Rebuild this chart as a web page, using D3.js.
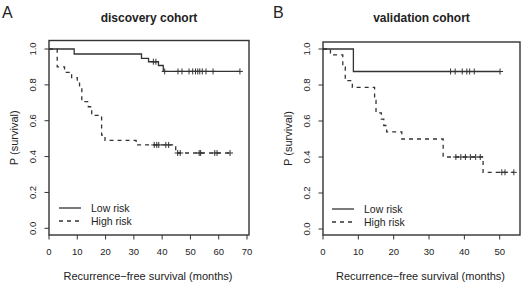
<!DOCTYPE html>
<html>
<head>
<meta charset="utf-8">
<script src="https://cdn.jsdelivr.net/npm/d3@7"></script>
<style>
  body { margin: 0; background: #fff; }
  text { font-family: "Liberation Sans", Arial, Helvetica, sans-serif; fill: #222; }
</style>
</head>
<body>
<div id="chart"></div>
<script>
(function() {

  // -----------------------------
  // 1. DATA
  // -----------------------------
  // discovery cohort
  const lowA_times  = [0, 8.9, 32.7, 35.2, 38.7, 40.4];
  const lowA_surv   = [1, 0.972, 0.948, 0.929, 0.908, 0.875];
  const lowA_censor = [36.9, 37.8, 40.9, 45.6, 47.0, 49.5, 50.8, 51.8, 52.6, 53.3, 54.2, 55.5, 58.0, 67.5];

  const highA_times  = [0, 2.9, 5.5, 8.0, 10.0, 10.8, 11.6, 13.9, 15.1, 18.6, 19.8, 30.8, 44.8];
  const highA_surv   = [1, 0.90, 0.87, 0.84, 0.81, 0.787, 0.706, 0.678, 0.63, 0.52, 0.49, 0.465, 0.42];
  const highA_censor = [37.2, 38.1, 38.8, 41.3, 42.3, 45.5, 46.4, 53.1, 53.6, 58.6, 59.4, 64.0];

  // validation cohort
  const lowB_times  = [0, 8.6];
  const lowB_surv   = [1, 0.875];
  const lowB_censor = [36.1, 37.4, 39.4, 40.7, 41.5, 42.8, 50.1];

  const highB_times  = [0, 2.1, 5.6, 6.3, 8.3, 14.6, 15.0, 16.5, 17.2, 18.0, 22.3, 34.0, 45.3];
  const highB_surv   = [1, 0.967, 0.90, 0.824, 0.787, 0.715, 0.645, 0.61, 0.575, 0.54, 0.50, 0.40, 0.315];
  const highB_censor = [37.6, 39.0, 40.3, 41.7, 43.2, 44.5, 50.6, 51.5, 54.0];

  const yTicks = [0, 0.2, 0.4, 0.6, 0.8, 1.0];
  const xTicksA = [0, 10, 20, 30, 40, 50, 60, 70];
  const xTicksB = [0, 10, 20, 30, 40, 50];
  const seriesNames = ["Low risk", "High risk"];

  // -----------------------------
  // 2. SVG SETUP
  // -----------------------------
  const width = 524, height = 285;
  const svg = d3.select("#chart").append("svg")
      .attr("width", width)
      .attr("height", height);

  const ink = "#333";

  function drawPanel(p) {
    const x = d3.scaleLinear().domain([0, p.xMax]).range([p.x0, p.x1]);
    const y = d3.scaleLinear().domain([0, 1]).range([p.y0, p.y1]);
    const g = svg.append("g");

    // panel letter + title
    g.append("text").attr("x", p.letterX).attr("y", 18)
      .style("font-size", "16px").text(p.letter);
    g.append("text").attr("x", (p.boxL + p.boxR) / 2).attr("y", 22)
      .attr("text-anchor", "middle")
      .style("font-size", "12px").style("font-weight", "bold")
      .text(p.title);

    // box
    g.append("rect")
      .attr("x", p.boxL).attr("y", p.boxT)
      .attr("width", p.boxR - p.boxL).attr("height", p.boxB - p.boxT)
      .attr("fill", "none").attr("stroke", ink).attr("stroke-width", 1.4);

    // y axis
    const yAxis = g.append("g");
    yAxis.selectAll("line").data(yTicks).enter().append("line")
      .attr("x1", p.boxL).attr("x2", p.boxL - 4.5)
      .attr("y1", d => y(d)).attr("y2", d => y(d))
      .attr("stroke", ink).attr("stroke-width", 1);
    yAxis.selectAll("text").data(yTicks).enter().append("text")
      .attr("transform", d => `translate(${p.boxL - 16},${y(d)}) rotate(-90)`)
      .attr("text-anchor", "middle").attr("dy", "0.35em")
      .style("font-size", "9.5px")
      .text(d => d3.format(".1f")(d));
    g.append("text")
      .attr("transform", `translate(${p.boxL - 35},${(p.boxT + p.boxB) / 2}) rotate(-90)`)
      .attr("text-anchor", "middle").attr("dy", "0.35em")
      .style("font-size", "11px")
      .text("P (survival)");

    // x axis
    const xAxis = g.append("g");
    xAxis.selectAll("line").data(p.xTicks).enter().append("line")
      .attr("x1", d => x(d)).attr("x2", d => x(d))
      .attr("y1", p.boxB).attr("y2", p.boxB + 4.5)
      .attr("stroke", ink).attr("stroke-width", 1);
    xAxis.selectAll("text").data(p.xTicks).enter().append("text")
      .attr("x", d => x(d)).attr("y", p.boxB + 19.5)
      .attr("text-anchor", "middle")
      .style("font-size", "9.5px")
      .text(d => d);
    g.append("text")
      .attr("x", (p.boxL + p.boxR) / 2 - 1).attr("y", 280)
      .attr("text-anchor", "middle")
      .style("font-size", "11px")
      .text("Recurrence\u2212free survival (months)");

    // curves
    const line = d3.line()
      .x(d => x(d[0])).y(d => y(d[1]))
      .curve(d3.curveStepAfter);

    p.series.forEach(s => {
      const pts = s.times.map((t, i) => [t, s.surv[i]]);
      const end = d3.max(s.censor.concat(s.times));
      pts.push([end, s.surv[s.surv.length - 1]]);
      g.append("path")
        .attr("d", line(pts))
        .attr("fill", "none").attr("stroke", ink)
        .attr("stroke-width", 1.3)
        .attr("stroke-dasharray", s.dash);

      const survAt = t => {
        let v = 1;
        s.times.forEach((tt, i) => { if (tt <= t) v = s.surv[i]; });
        return v;
      };
      const cg = g.append("g");
      s.censor.forEach(t => {
        const cx = x(t), cy = y(survAt(t));
        cg.append("path")
          .attr("d", `M${cx - 3},${cy}H${cx + 3}M${cx},${cy - 3}V${cy + 3}`)
          .attr("stroke", ink).attr("stroke-width", 1);
      });
    });

    // legend
    const leg = g.append("g");
    p.series.forEach((s, i) => {
      const ly = p.legY + i * 13;
      leg.append("line")
        .attr("x1", p.legX).attr("x2", p.legX + 22)
        .attr("y1", ly).attr("y2", ly)
        .attr("stroke", ink).attr("stroke-width", 1.3)
        .attr("stroke-dasharray", s.dash);
      leg.append("text")
        .attr("x", p.legX + 32).attr("y", ly).attr("dy", "0.35em")
        .style("font-size", "10.5px")
        .text(seriesNames[i]);
    });
  }

  // -----------------------------
  // 3. PANELS
  // -----------------------------
  drawPanel({
    letter: "A", letterX: 2, title: "discovery cohort",
    xMax: 70, x0: 49, x1: 247, y0: 228.3, y1: 49,
    boxL: 49, boxR: 249, boxT: 40.5, boxB: 235,
    xTicks: xTicksA, legX: 59, legY: 208,
    series: [
      {times: lowA_times, surv: lowA_surv, censor: lowA_censor, dash: null},
      {times: highA_times, surv: highA_surv, censor: highA_censor, dash: "4,4"}
    ]
  });

  drawPanel({
    letter: "B", letterX: 273, title: "validation cohort",
    xMax: 50, x0: 323, x1: 499.7, y0: 229, y1: 49,
    boxL: 323, boxR: 520, boxT: 42, boxB: 235,
    xTicks: xTicksB, legX: 332, legY: 209,
    series: [
      {times: lowB_times, surv: lowB_surv, censor: lowB_censor, dash: null},
      {times: highB_times, surv: highB_surv, censor: highB_censor, dash: "4,4"}
    ]
  });

})();
</script>
</body>
</html>
